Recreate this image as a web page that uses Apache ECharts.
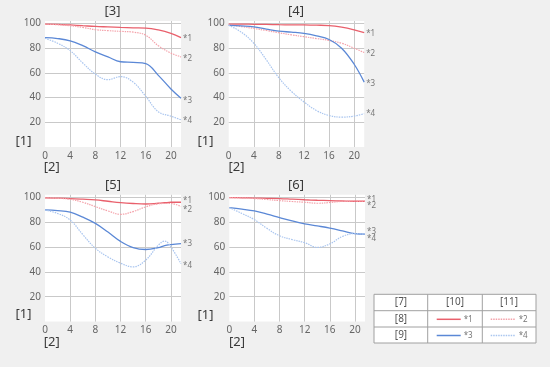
<!DOCTYPE html>
<html>
<head>
<meta charset="utf-8">
<script src="https://cdn.jsdelivr.net/npm/echarts@6/dist/echarts.min.js"></script>
<style>
html,body{margin:0;padding:0;background:#f0f0f0;}
#c{width:550px;height:367px;}
</style>
</head>
<body>
<div id="c"></div>
<script>
// ---- data ----
var X = [0, 2, 4, 6, 8, 10, 12, 14, 16, 18, 20, 21.6];
var X3 = [0, 2, 4, 6, 8, 10, 12, 14, 16, 18, 19, 20, 21.6];
var xTicks = [0, 4, 8, 12, 16, 20];
var yTicks = [20, 40, 60, 80, 100];
var chartTitles = ['[3]', '[4]', '[5]', '[6]'];
var seriesNames = ['*1', '*2', '*3', '*4'];

var c1s1 = [99.5, 99.3, 98.8, 98.2, 97.6, 97.2, 96.8, 96.5, 96.3, 94.8, 92, 88.5];
var c1s2 = [99.5, 99, 98.2, 96.8, 95, 94.2, 93.6, 93, 90.5, 82, 76, 73];
var c1s3 = [88.5, 87.8, 86, 82, 77, 73, 69, 68.5, 67.5, 58, 47, 39.5];
var c1s4 = [88, 84, 78, 68, 59, 54.5, 57, 52.5, 41, 28.5, 25, 22];

var c2s1 = [99.5, 99.5, 99.3, 99.2, 99, 98.9, 98.8, 98.6, 98.3, 97, 94.8, 92.5];
var c2s2 = [99, 97.5, 96, 94.3, 92.5, 90.8, 89.3, 87.8, 86.3, 84, 80, 76.5];
var c2s3 = [98.5, 98, 97.3, 95.5, 93.8, 93, 92, 90, 87, 80, 67, 52.5];
var c2s4 = [98.5, 93, 84, 70.5, 56, 45, 36.5, 29.5, 25.5, 24.2, 25, 27];

var c3s1 = [99.5, 99.3, 99, 98.5, 97.9, 96.8, 95.7, 95, 94.6, 95.2, 95.6, 96, 96];
var c3s2 = [99.5, 99.2, 98.4, 96, 92.5, 89, 86.3, 88.5, 92.3, 94.8, 95, 95, 92.5];
var c3s3 = [89.8, 89.3, 88, 84, 79, 72, 64.5, 59.5, 58, 59.5, 61.2, 62, 62.8];
var c3s4 = [89.8, 87, 81.7, 70, 59, 52, 47, 44, 49.5, 61.5, 64.8, 60, 46.5];

var c4s1 = [99.8, 99.6, 99.4, 99.2, 99, 98.5, 98, 97.6, 97.3, 97, 96.8, 96.8];
var c4s2 = [99.7, 99.4, 99, 98.2, 97.3, 96.6, 96, 95.2, 95.8, 96.8, 97, 96.8];
var c4s3 = [91.7, 90.5, 89, 86.5, 83.7, 81, 78.7, 77, 75.2, 73, 70.7, 70.3];
var c4s4 = [91.7, 87, 82, 75, 69, 66, 63.5, 59.7, 62.5, 68.5, 70.8, 70.3];

// ---- styling ----
var FONT = 'Noto Sans';
var colors = ['#e9606c', '#f4a2aa', '#5b88d6', '#a9c5ef'];
var lineTypes = ['solid', [1.5, 1], 'solid', [1.5, 1]];
var grids = [
  {left: 45, top: 21, width: 136, height: 126},
  {left: 228.7, top: 21, width: 135.5, height: 126},
  {left: 45, top: 194.8, width: 136, height: 126.8},
  {left: 229.3, top: 194.8, width: 135.7, height: 126.8}
];
var labelOffsets = [
  [1, 2, 3, 1],
  [1, 1, 2, 0],
  [-2, 3, 0, 2],
  [-2, 4, -2, 5]
];
var charts = [
  {x: X, s: [c1s1, c1s2, c1s3, c1s4]},
  {x: X, s: [c2s1, c2s2, c2s3, c2s4]},
  {x: X3, s: [c3s1, c3s2, c3s3, c3s4]},
  {x: X, s: [c4s1, c4s2, c4s3, c4s4]}
];

var xAxes = [], yAxes = [], series = [];
grids.forEach(function (g, i) {
  g.show = true;
  g.backgroundColor = '#ffffff';
  g.borderWidth = 0;
  xAxes.push({
    type: 'value', gridIndex: i, min: 0, max: 21.6, interval: 4,
    axisLine: {show: false}, axisTick: {show: false},
    axisLabel: {color: '#666', fontSize: 10, fontFamily: FONT, margin: 4, showMaxLabel: false,
      formatter: function (v) { return xTicks.indexOf(v) >= 0 ? String(v) : ''; }},
    splitLine: {show: true, showMinLine: false, showMaxLine: false, lineStyle: {color: '#c9c9c9', width: 1}}
  });
  yAxes.push({
    type: 'value', gridIndex: i, min: 0, max: 102, interval: 20,
    axisLine: {show: false}, axisTick: {show: false},
    axisLabel: {color: '#666', fontSize: 10, fontFamily: FONT, margin: 4, showMaxLabel: false,
      formatter: function (v) { return yTicks.indexOf(v) >= 0 ? String(v) : ''; }},
    splitLine: {show: true, showMinLine: false, showMaxLine: false, lineStyle: {color: '#c9c9c9', width: 1}}
  });
  var ch = charts[i];
  ch.s.forEach(function (vals, k) {
    series.push({
      type: 'line', xAxisIndex: i, yAxisIndex: i, smooth: 0.4, symbol: 'none',
      data: ch.x.map(function (xv, j) { return [xv, vals[j]]; }),
      lineStyle: {color: colors[k], width: k % 2 === 0 ? 1.3 : 1.2, type: lineTypes[k]},
      endLabel: {show: true, formatter: seriesNames[k], color: '#777', fontSize: 8, fontFamily: FONT,
        distance: 2, offset: [0, labelOffsets[i][k]]},
      silent: true
    });
  });
});

// texts
var textPos = [
  {t: [112.5, 11], a: [23.5, 141], b: [51.7, 167.5]},
  {t: [296, 11], a: [205.5, 141], b: [236.5, 167.5]},
  {t: [113, 185], a: [23.5, 314.5], b: [51.7, 342]},
  {t: [296, 185], a: [205.5, 315], b: [237, 342]}
];
var graphics = [];
function txt(s, x, y, size, color) {
  return {type: 'text', x: x, y: y, silent: true,
    style: {text: s, fontSize: size, fill: color, fontFamily: FONT, align: 'center', verticalAlign: 'middle'}};
}
textPos.forEach(function (p, i) {
  graphics.push(txt(chartTitles[i], p.t[0], p.t[1], 13, '#3a3a3a'));
  graphics.push(txt('[1]', p.a[0], p.a[1], 13, '#3a3a3a'));
  graphics.push(txt('[2]', p.b[0], p.b[1], 13, '#3a3a3a'));
});

// legend table
var tL = 374, tT = 294.3, tW = 162, tH = 48.7;
var colX = [427.7, 482.3], rowY = [310.7, 327];
graphics.push({type: 'rect', silent: true, shape: {x: tL, y: tT, width: tW, height: tH},
  style: {fill: '#fff', stroke: '#a0a0a0', lineWidth: 1}});
colX.forEach(function (cx) {
  graphics.push({type: 'line', silent: true, shape: {x1: cx, y1: tT, x2: cx, y2: tT + tH},
    style: {stroke: '#a0a0a0', lineWidth: 1}});
});
rowY.forEach(function (ry) {
  graphics.push({type: 'line', silent: true, shape: {x1: tL, y1: ry, x2: tL + tW, y2: ry},
    style: {stroke: '#a0a0a0', lineWidth: 1}});
});
var cellCx = [401, 455, 509], cellCy = [302.5, 319, 335.2];
graphics.push(txt('[7]', cellCx[0], cellCy[0], 10, '#555'));
graphics.push(txt('[10]', cellCx[1], cellCy[0], 10, '#555'));
graphics.push(txt('[11]', cellCx[2], cellCy[0], 10, '#555'));
graphics.push(txt('[8]', cellCx[0], cellCy[1], 10, '#555'));
graphics.push(txt('[9]', cellCx[0], cellCy[2], 10, '#555'));
var sampleX = [[436.7, 460.7], [490.7, 515.7]];
for (var k = 0; k < 4; k++) {
  var r = Math.floor(k / 2), c = k % 2;
  var yy = cellCy[r + 1] + 0.3;
  graphics.push({type: 'line', silent: true,
    shape: {x1: sampleX[c][0], y1: yy, x2: sampleX[c][1], y2: yy},
    style: {stroke: colors[k], lineWidth: 1.5, lineDash: lineTypes[k] === 'solid' ? null : [1.5, 1]}});
  graphics.push({type: 'text', silent: true, x: sampleX[c][1] + 3, y: yy,
    style: {text: seriesNames[k], fontSize: 8, fill: '#777', fontFamily: FONT, align: 'left', verticalAlign: 'middle'}});
}

var chart = echarts.init(document.getElementById('c'), null, {renderer: 'canvas'});
chart.setOption({
  backgroundColor: '#f0f0f0',
  animation: false,
  grid: grids,
  xAxis: xAxes,
  yAxis: yAxes,
  series: series,
  graphic: graphics
});
</script>
</body>
</html>
